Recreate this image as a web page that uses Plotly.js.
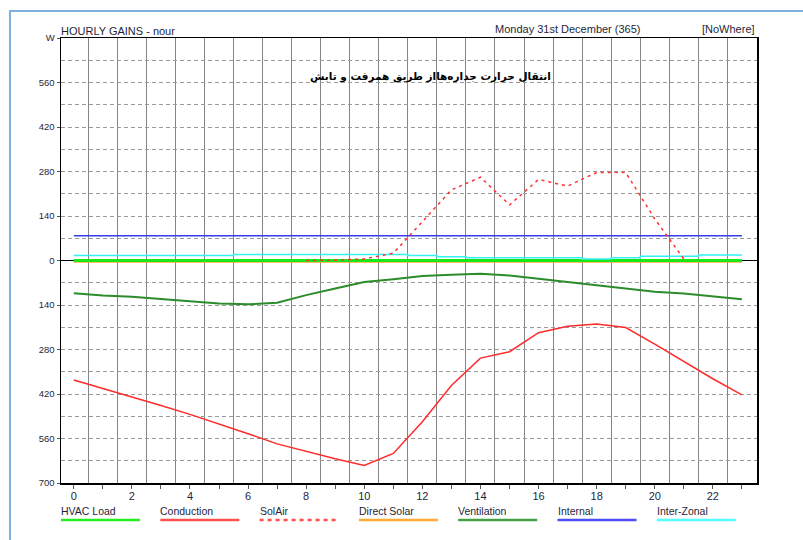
<!DOCTYPE html>
<html><head><meta charset="utf-8">
<script src="https://cdn.plot.ly/plotly-3.0.1.min.js"></script>
<style>
body{margin:0;background:#fff}
#wrap{position:relative;width:803px;height:540px;overflow:hidden}
#chart{position:absolute;left:0;top:0;width:803px;height:540px}
#frame{position:absolute;left:9px;top:10px;right:-5px;bottom:-5px;border-left:2px solid #7fb0e0;border-top:2px solid #7fb0e0;pointer-events:none}
</style>
</head><body>
<div id="wrap"><div id="chart"></div><div id="frame"></div></div>
<script>
// ---- data ----
const hours = [0,1,2,3,4,5,6,7,8,9,10,11,12,13,14,15,16,17,18,19,20,21,22,23];
const hvacLoad    = [0,0,0,0,0,0,0,0,0,0,0,0,0,0,0,0,0,0,0,0,0,0,0,0];
const conduction  = [-376,-402,-429,-456,-484,-514,-545,-577,-601,-624,-645,-607,-507,-393,-307,-287,-227,-207,-200,-211,-263,-318,-372,-423];
const solAir      = [null,null,null,null,null,null,null,null,0,1,5,23,122,222,262,175,255,234,277,277,131,5,null,null];
const directSolar = [-4,-4,-4,-4,-4,-4,-4,-4,-4,-4,-4,-4,-4,-4,-4,-4,-4,-4,-4,-4,-4,-4,-4,-4];
const ventilation = [-103,-110,-114,-120,-128,-135,-138,-133,-109,-88,-68,-59,-49,-45,-42,-47,-57,-68,-78,-88,-98,-104,-112,-122];
const internal    = [78,78,78,78,78,78,78,78,78,78,78,78,78,78,78,78,78,78,78,78,78,78,78,78];
const interZonal  = [16,16,16,16,16,16,19,19,19,19,19,19,16,12,9,9,9,9,5,9,13,13,17,17];

const seriesNames = ["HVAC Load","Conduction","SolAir","Direct Solar","Ventilation","Internal","Inter-Zonal"];
const xTickVals = hours;
const xTickText = hours.map(h => (h % 2 === 0 ? String(h) : ""));
const yTickVals = [-700,-560,-420,-280,-140,0,140,280,420,560,700];
const yTickText = ["700","560","420","280","140","0","140","280","420","560","W"];
const yMinorVals = [-630,-490,-350,-210,-70,70,210,350,490,630];
const xMinorVals = [0.5,1.5,2.5,3.5,4.5,5.5,6.5,7.5,8.5,9.5,10.5,11.5,12.5,13.5,14.5,15.5,16.5,17.5,18.5,19.5,20.5,21.5,22.5];

// ---- styles ----
const styles = {
  "HVAC Load":   {color:"#18e818", width:3, dash:"solid", shape:"linear", legend:"#22ee22"},
  "Conduction":  {color:"#ff2a2a", width:1.5, dash:"solid", shape:"linear", legend:"#ff5050"},
  "SolAir":      {color:"#ff3030", width:1.5, dash:"3px,4px", shape:"linear", legend:"#ff5050"},
  "Direct Solar":{color:"#ffa733", width:2, dash:"solid", shape:"linear", legend:"#ffaa33"},
  "Ventilation": {color:"#2b8c2b", width:2, dash:"solid", shape:"linear", legend:"#44a044"},
  "Internal":    {color:"#3b3bea", width:1.5, dash:"solid", shape:"linear", legend:"#4d4df5"},
  "Inter-Zonal": {color:"#33f2f2", width:1.5, dash:"solid", shape:"hvh", legend:"#55ffff"}
};
const seriesData = {
  "HVAC Load":hvacLoad, "Conduction":conduction, "SolAir":solAir, "Direct Solar":directSolar,
  "Ventilation":ventilation, "Internal":internal, "Inter-Zonal":interZonal
};
const drawOrder = ["Direct Solar","HVAC Load","Inter-Zonal","Internal","Ventilation","Conduction","SolAir"];

const traces = drawOrder.map(name => ({
  type:"scatter", mode:"lines", name:name, x:hours, y:seriesData[name],
  line:{color:styles[name].color, width:styles[name].width, dash:styles[name].dash, shape:styles[name].shape},
  connectgaps:false, showlegend:false, hoverinfo:"x+y+name"
}));

// ---- custom legend (text above, line below) ----
const plotL = 61, plotW = 696, plotB = 483, plotH = 445;
const FONT = "Liberation Sans, Arial, sans-serif";
const TXT = "#1f1f3a";
const annotations = [];
const shapes = [];
seriesNames.forEach((name, i) => {
  const px = 61 + i * 99.3;
  const xp = (px - plotL) / plotW;
  const xp2 = (px + 79 - plotL) / plotW;
  annotations.push({
    xref:"paper", yref:"paper", x:xp, y:(plotB - 511) / plotH, xanchor:"left", yanchor:"middle", xshift:-2,
    text:name, showarrow:false, font:{family:FONT, size:10.5, color:TXT}
  });
  shapes.push({
    type:"line", xref:"paper", yref:"paper", x0:xp, x1:xp2,
    y0:(plotB - 520) / plotH, y1:(plotB - 520) / plotH,
    line:{color:styles[name].legend, width:2.5, dash: name === "SolAir" ? "4px,4px" : "solid"}
  });
});

annotations.push({
  xref:"paper", yref:"paper", x:(643 - plotL) / plotW, y:1, xanchor:"right", yanchor:"bottom", yshift:1,
  text:"Monday 31st December (365)", showarrow:false,
  font:{family:FONT, size:11, color:TXT}
});
annotations.push({
  xref:"paper", yref:"paper", x:1, y:1, xanchor:"right", yanchor:"bottom", yshift:1,
  text:"[NoWhere]", showarrow:false,
  font:{family:FONT, size:11, color:TXT}
});
annotations.push({
  xref:"paper", yref:"paper", x:(430 - plotL) / plotW, y:(plotB - 76) / plotH, xanchor:"center", yanchor:"middle",
  text:"انتقال حرارت جداره\u200cهااز طریق همرفت و تابش", showarrow:false,
  font:{family:"DejaVu Sans, sans-serif", size:10.5, color:"#000", weight:"bold"}
});

const layout = {
  width:803, height:540,
  margin:{l:61, r:46, t:38, b:57, pad:0},
  paper_bgcolor:"#ffffff", plot_bgcolor:"#ffffff",
  font:{family:FONT, size:11, color:TXT},
  title:{text:"HOURLY GAINS - nour", xref:"paper", x:0, xanchor:"left", yref:"paper", y:1, yanchor:"bottom",
         pad:{b:3}, font:{family:FONT, size:11, color:TXT}},
  showlegend:false,
  xaxis:{
    range:[-0.44, 23.52], fixedrange:true,
    tickmode:"array", tickvals:xTickVals, ticktext:xTickText,
    ticks:"outside", ticklen:4, tickcolor:"#555", tickwidth:1, ticklabelstandoff:-2,
    showgrid:false, zeroline:false,
    showline:true, linecolor:"#000", linewidth:1.5, mirror:true,
    tickfont:{size:11, color:TXT},
    minor:{tickmode:"array", tickvals:xMinorVals, showgrid:true, gridcolor:"#858585", griddash:"solid", gridwidth:1, ticks:""}
  },
  yaxis:{
    range:[-700, 700], fixedrange:true,
    tickmode:"array", tickvals:yTickVals, ticktext:yTickText,
    ticks:"outside", ticklen:3, tickcolor:"#555", tickwidth:1,
    showgrid:true, gridcolor:"#9a9a9a", griddash:"4px,3px", gridwidth:1,
    zeroline:true, zerolinecolor:"#000", zerolinewidth:1,
    showline:true, linecolor:"#000", linewidth:1.5, mirror:true,
    tickfont:{size:9.5, color:TXT},
    minor:{tickmode:"array", tickvals:yMinorVals, showgrid:true, gridcolor:"#9a9a9a", griddash:"4px,3px", gridwidth:1, ticks:""}
  },
  annotations:annotations,
  shapes:shapes
};

Plotly.newPlot("chart", traces, layout, {displayModeBar:false, staticPlot:true});
</script>
</body></html>
